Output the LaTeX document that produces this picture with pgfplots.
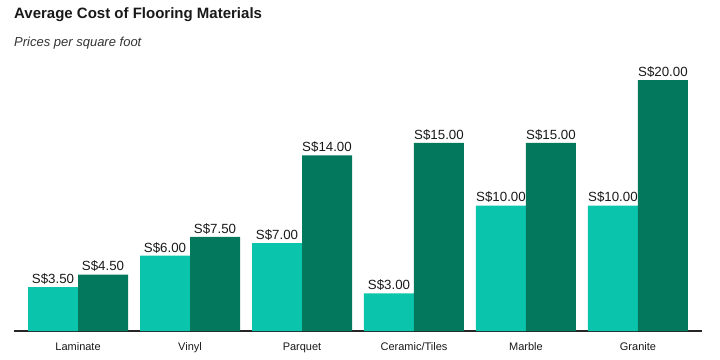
\documentclass[border=0pt]{standalone}
\usepackage{pgfplots}
\pgfplotsset{compat=1.18}
\usepackage{fontspec}
\setmainfont{Liberation Sans}
\definecolor{lightteal}{HTML}{0AC5AC}
\definecolor{darkteal}{HTML}{03785C}
\begin{document}
\begin{tikzpicture}
\path[use as bounding box] (-14pt,-28pt) rectangle (706pt,331pt);
\begin{axis}[
  at={(0,0)}, anchor=south west,
  scale only axis, width=688pt, height=251pt,
  xmin=-0.572, xmax=5.572, ymin=0, ymax=20,
  ybar=0pt, bar width=50pt,
  axis y line=none, axis x line*=bottom,
  x axis line style={-, line width=1.3pt, draw=black!85},
  xtick=data, xticklabels={Laminate,Vinyl,Parquet,Ceramic/Tiles,Marble,Granite},
  major tick length=0pt,
  xticklabel style={font=\fontsize{11}{13}\selectfont, text=black!90, yshift=-8pt},
  nodes near coords={S\$\pgfmathprintnumber[assume math mode=true,fixed,fixed zerofill,precision=2]{\pgfplotspointmeta}},
  every node near coord/.append style={font=\fontsize{13.3}{15}\selectfont, text=black!90, inner sep=2.5pt},
  clip=false,
]
\addplot[fill=lightteal, draw=none] coordinates {(0,3.5) (1,6) (2,7) (3,3) (4,10) (5,10)};
\addplot[fill=darkteal, draw=none] coordinates {(0,4.5) (1,7.5) (2,14) (3,15) (4,15) (5,20)};
\end{axis}
\node[anchor=west, inner sep=0pt, font=\bfseries\fontsize{15}{17}\selectfont, text=black!90] at (0pt,316pt) {Average Cost of Flooring Materials};
\node[anchor=west, inner sep=0pt, font=\itshape\fontsize{13}{15}\selectfont, text=black!80] at (0pt,288pt) {Prices per square foot};
\end{tikzpicture}
\end{document}
